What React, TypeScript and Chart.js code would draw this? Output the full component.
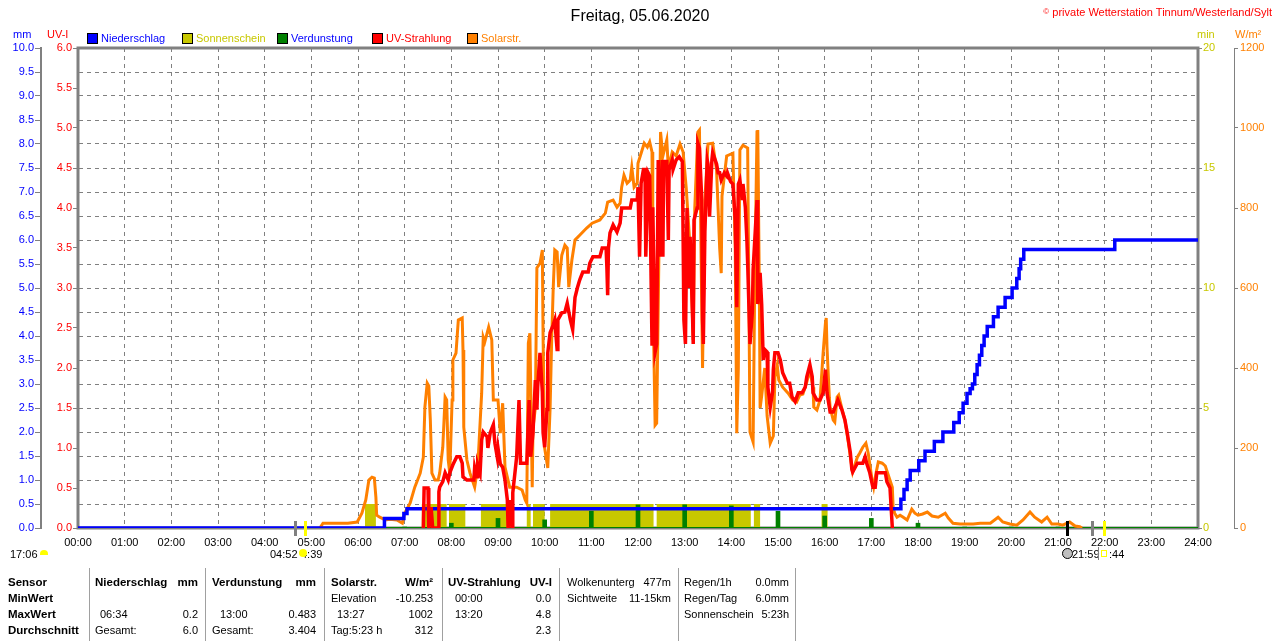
import React, { useEffect, useRef } from "react";
import { Chart, registerables } from "chart.js";

Chart.register(...registerables);

// ---------------- data (time in minutes since 00:00) ----------------
const dayStart = 0;
const dayEnd = 1440;
const hourStep = 60;

// Solarstr. W/m²
const solarRadiation: [number, number][] = [
  [311, 0], [315, 12], [347, 12], [359, 15], [365, 37], [370, 70], [374, 120], [378, 127], [381, 125], [383, 77],
  [384, 32], [388, 27], [395, 20], [401, 22], [410, 20], [417, 12], [420, 37], [427, 62], [433, 102], [440, 137],
  [444, 177], [446, 302], [449, 362], [451, 355], [453, 270], [455, 137], [459, 120], [463, 120], [465, 137], [469, 202],
  [472, 327], [474, 320], [476, 170], [478, 137], [481, 320], [482, 420], [486, 437], [489, 520], [494, 525], [495, 445],
  [496, 252], [500, 170], [504, 137], [510, 102], [514, 152], [519, 337], [521, 477], [523, 465], [526, 487], [528, 502],
  [532, 470], [534, 320], [540, 320], [543, 237], [546, 312], [549, 152], [555, 102], [564, 102], [571, 95], [575, 70],
  [577, 62], [579, 462], [581, 487], [584, 102], [585, 250], [588, 300], [590, 650], [594, 662], [597, 695], [598, 470],
  [600, 200], [604, 150], [607, 300], [609, 470], [611, 600], [613, 695], [616, 690], [618, 602], [622, 682], [626, 707],
  [629, 700], [631, 602], [635, 670], [639, 720], [645, 732], [654, 750], [661, 762], [671, 770], [678, 787], [681, 815],
  [688, 820], [693, 802], [697, 812], [699, 852], [702, 882], [706, 862], [710, 870], [712, 902], [715, 852], [719, 862],
  [720, 912], [724, 937], [728, 962], [732, 952], [735, 965], [738, 940], [739, 600], [742, 257], [744, 262], [747, 700],
  [749, 990], [752, 930], [757, 970], [759, 900], [764, 940], [769, 930], [774, 960], [778, 940], [782, 850], [787, 700],
  [791, 470], [793, 800], [797, 990], [799, 995], [803, 400], [806, 820], [810, 960], [816, 962], [821, 895], [825, 700],
  [827, 637], [828, 830], [834, 930], [842, 937], [845, 700], [847, 237], [849, 400], [851, 945], [855, 957], [861, 950],
  [864, 240], [868, 215], [870, 600], [873, 990], [874, 995], [876, 600], [877, 300], [879, 330], [883, 400], [886, 280],
  [890, 212], [894, 230], [896, 377], [899, 407], [901, 370], [906, 352], [913, 337], [919, 320], [924, 315], [928, 332],
  [932, 335], [937, 365], [941, 395], [945, 352], [946, 302], [950, 295], [954, 320], [958, 437], [961, 512], [962, 525],
  [963, 452], [966, 327], [967, 302], [971, 270], [973, 265], [976, 327], [978, 332], [982, 300], [986, 270], [990, 220],
  [995, 152], [996, 140], [1002, 177], [1005, 187], [1009, 202], [1013, 212], [1016, 187], [1021, 120], [1023, 102], [1026, 137],
  [1029, 165], [1034, 162], [1038, 155], [1041, 137], [1047, 102], [1048, 52], [1050, 37], [1053, 27], [1057, 32], [1061, 27],
  [1066, 20], [1072, 47], [1076, 37], [1080, 32], [1086, 35], [1092, 40], [1098, 30], [1106, 27], [1115, 37], [1119, 25],
  [1125, 12], [1134, 10], [1151, 10], [1160, 12], [1173, 12], [1183, 27], [1189, 15], [1198, 10], [1207, 7], [1215, 20],
  [1224, 40], [1230, 27], [1239, 15], [1246, 27], [1252, 10], [1260, 10], [1266, 7], [1275, 15], [1282, 5], [1288, 3],
  [1291, 0],
];

// UV-Strahlung UV-I
const uvIndex: [number, number][] = [
  [444, 0], [445, 0.5], [450, 0.5], [451, 0], [454, 0.26], [456, 0], [463, 0], [464, 0.45], [465, 0.51], [469, 0.58],
  [472, 0.69], [476, 0.6], [478, 0.69], [482, 0.79], [487, 0.89], [491, 0.89], [494, 0.81], [495, 0.64], [500, 0.6], [509, 0.6],
  [510, 0.76], [513, 0.64], [514, 0.79], [517, 0.69], [519, 1.1], [521, 1.2], [526, 1.14], [527, 1.0], [530, 1.19], [534, 1.29],
  [536, 1.06], [539, 0.89], [540, 1.0], [543, 0.8], [546, 0.76], [549, 0.6], [552, 0.35], [553, 0], [555, 0.35], [558, 0],
  [559, 0.44], [564, 0.89], [567, 1.6], [569, 0.81], [577, 0.81], [580, 1.6], [582, 0.89], [585, 1.19], [588, 1.85], [590, 1.48],
  [591, 1.76], [594, 2.19], [597, 1.7], [598, 1.19], [600, 1.01], [603, 1.48], [604, 2.19], [607, 2.44], [611, 2.54], [613, 2.6],
  [616, 2.23], [617, 2.6], [622, 2.69], [626, 2.7], [629, 2.81], [633, 2.6], [636, 2.48], [639, 2.88], [642, 3.0], [645, 3.1],
  [649, 3.2], [656, 3.2], [658, 3.31], [662, 3.39], [671, 3.39], [674, 3.5], [679, 3.5], [680, 3.26], [681, 2.91], [682, 3.5],
  [684, 3.69], [688, 3.79], [693, 3.7], [697, 3.81], [699, 4.0], [710, 4.0], [712, 4.1], [719, 4.1], [720, 4.26], [722, 3.39],
  [724, 4.31], [727, 4.48], [729, 4.48], [730, 3.39], [733, 4.44], [735, 4.4], [738, 2.3], [739, 4.01], [742, 2.2], [744, 2.3],
  [746, 4.6], [749, 3.39], [751, 4.6], [752, 3.39], [753, 4.58], [757, 4.58], [759, 3.6], [760, 4.48], [764, 4.6], [765, 4.48],
  [769, 4.6], [773, 4.64], [777, 4.58], [778, 3.64], [779, 2.6], [781, 2.3], [783, 4.0], [785, 3.0], [787, 3.64], [790, 2.7],
  [791, 2.3], [792, 3.85], [796, 4.0], [797, 4.81], [799, 4.75], [802, 4.1], [803, 2.6], [804, 2.3], [806, 3.7], [809, 4.6],
  [810, 4.55], [812, 3.89], [815, 4.6], [816, 4.69], [821, 4.55], [823, 4.44], [825, 4.44], [827, 4.35], [831, 4.44], [834, 4.4],
  [835, 4.44], [839, 4.33], [842, 4.3], [845, 3.85], [847, 2.76], [849, 4.3], [851, 4.35], [854, 4.1], [855, 4.3], [858, 4.01],
  [860, 3.6], [861, 3.31], [864, 2.3], [867, 2.7], [868, 3.23], [873, 4.1], [874, 2.8], [877, 3.19], [879, 2.8], [881, 2.1],
  [883, 2.23], [886, 2.2], [887, 1.76], [890, 1.51], [893, 1.7], [894, 1.98], [896, 2.19], [900, 2.19], [903, 2.1], [906, 1.94],
  [912, 1.81], [915, 1.81], [918, 1.64], [922, 1.58], [926, 1.69], [931, 1.69], [935, 1.76], [937, 1.89], [941, 2.04], [944, 1.89],
  [945, 1.69], [950, 1.6], [954, 1.6], [958, 1.69], [961, 1.98], [963, 1.69], [967, 1.45], [971, 1.45], [973, 1.5], [977, 1.6],
  [982, 1.48], [986, 1.35], [989, 1.19], [993, 0.94], [995, 0.73], [996, 0.7], [1002, 0.81], [1009, 0.81], [1012, 0.89], [1014, 0.81],
  [1018, 0.69], [1022, 0.51], [1025, 0.51], [1027, 0.69], [1038, 0.69], [1040, 0.58], [1044, 0.5], [1047, 0],
];

// Niederschlag, cumulative mm (value reached at that minute)
const rainTotal: [number, number][] = [
  [0, 0], [394, 0.2], [419, 0.3], [423, 0.4], [1058, 0.6], [1062, 0.8], [1066, 1.0], [1070, 1.2], [1081, 1.4], [1089, 1.6],
  [1101, 1.8], [1112, 2.0], [1126, 2.2], [1133, 2.4], [1138, 2.6], [1143, 2.8], [1147, 2.9], [1150, 3.0], [1153, 3.2], [1156, 3.4],
  [1159, 3.6], [1162, 3.8], [1165, 4.0], [1169, 4.2], [1177, 4.4], [1183, 4.6], [1192, 4.8], [1201, 5.0], [1207, 5.2], [1210, 5.4],
  [1212, 5.6], [1216, 5.8], [1333, 6.0], [1440, 6.0],
];

// Verdunstung per hour, mm
const evaporation: [number, number][] = [
  [60, 0.01], [120, 0.01], [180, 0.01], [240, 0.01], [300, 0.01], [360, 0.02], [420, 0.02], [480, 0.1], [540, 0.2], [600, 0.17],
  [660, 0.35], [720, 0.48], [780, 0.483], [840, 0.46], [900, 0.35], [960, 0.25], [1020, 0.2], [1080, 0.1], [1140, 0.02], [1200, 0.02],
  [1260, 0.02], [1320, 0.01], [1380, 0.01],
];

// Sonnenschein spans [start, end] in minutes, value in min
const sunshineSpans: [number, number][] = [
  [369, 383], [442, 474], [477, 498], [518, 559], [577, 582], [585, 600], [607, 740], [744, 865], [869, 877], [956, 964],
];
const sunshineLevel = 1;

// sun / twilight markers below the axis
const dayMarkers: { t: number; color: string }[] = [
  { t: 279, color: "#808080" },
  { t: 292, color: "#ffff00" },
  { t: 1272, color: "#000000" },
  { t: 1304, color: "#808080" },
  { t: 1319, color: "#ffff00" },
];

const legendItems = [
  { label: "Niederschlag", box: "#0000ff", text: "#0000ff" },
  { label: "Sonnenschein", box: "#c8c800", text: "#c8c800" },
  { label: "Verdunstung", box: "#008000", text: "#0000ff" },
  { label: "UV-Strahlung", box: "#ff0000", text: "#ff0000" },
  { label: "Solarstr.", box: "#ff8000", text: "#ff8000" },
];

// table texts: [x, row, text, align, bold]
const tableCells: [number, number, string, "l" | "r", boolean][] = [
  [8, 0, "Sensor", "l", true], [95, 0, "Niederschlag", "l", true], [198, 0, "mm", "r", true],
  [212, 0, "Verdunstung", "l", true], [316, 0, "mm", "r", true], [331, 0, "Solarstr.", "l", true],
  [433, 0, "W/m²", "r", true], [448, 0, "UV-Strahlung", "l", true], [552, 0, "UV-I", "r", true],
  [567, 0, "Wolkenunterg", "l", false], [671, 0, "477m", "r", false], [684, 0, "Regen/1h", "l", false], [789, 0, "0.0mm", "r", false],
  [8, 1, "MinWert", "l", true], [331, 1, "Elevation", "l", false], [433, 1, "-10.253", "r", false],
  [455, 1, "00:00", "l", false], [551, 1, "0.0", "r", false], [567, 1, "Sichtweite", "l", false], [671, 1, "11-15km", "r", false],
  [684, 1, "Regen/Tag", "l", false], [789, 1, "6.0mm", "r", false],
  [8, 2, "MaxWert", "l", true], [100, 2, "06:34", "l", false], [198, 2, "0.2", "r", false], [220, 2, "13:00", "l", false],
  [316, 2, "0.483", "r", false], [337, 2, "13:27", "l", false], [433, 2, "1002", "r", false], [455, 2, "13:20", "l", false],
  [551, 2, "4.8", "r", false], [684, 2, "Sonnenschein", "l", false], [789, 2, "5:23h", "r", false],
  [8, 3, "Durchschnitt", "l", true], [95, 3, "Gesamt:", "l", false], [198, 3, "6.0", "r", false], [212, 3, "Gesamt:", "l", false],
  [316, 3, "3.404", "r", false], [331, 3, "Tag:5:23 h", "l", false], [433, 3, "312", "r", false], [551, 3, "2.3", "r", false],
];
const tableRowsY = [582, 598, 614, 630];
const tableSeparators = [89, 205, 324, 442, 559, 678, 795];

// ---------------- helpers ----------------
const FONT = 'Arial, "Liberation Sans", sans-serif';
const W = 1280;
const H = 641;
const pad2 = (n: number) => String(n).padStart(2, "0");
const hhmm = (m: number) => `${pad2(Math.floor(m / 60))}:${pad2(Math.round(m % 60))}`;
const toXY = (pairs: [number, number][]) => pairs.map(([x, y]) => ({ x, y }));

Chart.defaults.font.family = FONT;
Chart.defaults.font.size = 11;

const framePlugin = {
  id: "frame",
  beforeDatasetsDraw(chart: any) {
    const { ctx, chartArea: a } = chart;
    ctx.save();
    ctx.strokeStyle = "#808080";
    ctx.lineWidth = 3;
    ctx.strokeRect(a.left, a.top, a.right - a.left, a.bottom - a.top);
    ctx.restore();
  },
  afterDraw(chart: any) {
    const { ctx, chartArea: a } = chart;
    const xs = chart.scales.x;
    ctx.save();
    ctx.lineWidth = 3;
    for (const m of dayMarkers) {
      const px = Math.round(xs.getPixelForValue(m.t)) + 0.5;
      ctx.strokeStyle = m.color;
      ctx.beginPath();
      ctx.moveTo(px, a.bottom - 7);
      ctx.lineTo(px, a.bottom + 8);
      ctx.stroke();
    }
    ctx.restore();
  },
};

function Label(props: {
  x: number; y: number; text: React.ReactNode; color?: string; bold?: boolean; size?: number; align?: "l" | "r" | "c";
}) {
  const { x, y, text, color = "#000", bold = false, size = 11, align = "l" } = props;
  const style: React.CSSProperties = {
    position: "absolute",
    top: y - 8,
    height: 16,
    lineHeight: "16px",
    fontSize: size,
    fontFamily: FONT,
    fontWeight: bold ? 700 : 400,
    color,
    whiteSpace: "nowrap",
  };
  if (align === "l") style.left = x;
  else if (align === "r") style.right = W - x;
  else {
    style.left = x - 300;
    style.width = 600;
    style.textAlign = "center";
  }
  return <div style={style}>{text}</div>;
}

export default function App() {
  const canvasRef = useRef<HTMLCanvasElement | null>(null);

  useEffect(() => {
    if (!canvasRef.current) return;
    const sunshinePoints = sunshineSpans.flatMap(([s, e]) => [
      { x: s, y: 0 }, { x: s, y: sunshineLevel }, { x: e, y: sunshineLevel }, { x: e, y: 0 },
    ]);
    const chart = new Chart(canvasRef.current, {
      type: "line",
      data: {
        datasets: [
          {
            label: "UV-Strahlung", data: toXY(uvIndex), yAxisID: "yUv",
            borderColor: "#ff0000", borderWidth: 3.5, pointRadius: 0, order: 1,
          } as any,
          {
            label: "Niederschlag", data: toXY(rainTotal), yAxisID: "yMm", stepped: "before",
            borderColor: "#0000ff", borderWidth: 3.5, pointRadius: 0, order: 2,
          },
          {
            label: "Solarstr.", data: toXY(solarRadiation), yAxisID: "yW",
            borderColor: "#ff8000", borderWidth: 3, pointRadius: 0, order: 3,
          },
          {
            type: "bar", label: "Verdunstung", data: toXY(evaporation), yAxisID: "yMm",
            backgroundColor: "#008000", barThickness: 4, order: 4,
          },
          {
            label: "Verdunstung-Basis", data: [{ x: dayStart, y: 0 }, { x: dayEnd, y: 0 }], yAxisID: "yMm",
            borderColor: "#008000", borderWidth: 2, pointRadius: 0, order: 5,
          },
          {
            label: "Sonnenschein", data: sunshinePoints, yAxisID: "yMin",
            borderColor: "rgba(0,0,0,0)", borderWidth: 0, backgroundColor: "#c8c800",
            fill: "origin", pointRadius: 0, order: 6,
          },
        ] as any,
      },
      plugins: [framePlugin],
      options: {
        responsive: false,
        animation: false,
        events: [],
        layout: { padding: { top: 48, left: 0, right: 0, bottom: 0 } },
        plugins: { legend: { display: false }, tooltip: { enabled: false } },
        scales: {
          x: {
            type: "linear", min: dayStart, max: dayEnd, offset: false,
            afterFit: (s: any) => { s.height = 113; },
            ticks: {
              stepSize: hourStep, autoSkip: false, maxRotation: 0, padding: 8, color: "#000",
              font: { size: 11 }, callback: (v: any) => hhmm(Number(v)),
            },
            grid: { color: "#808080", lineWidth: 1, drawTicks: false, offset: false },
            border: { display: false, dash: [4, 4] },
          },
          yMm: {
            position: "left", weight: 2, min: 0, max: 10,
            afterFit: (s: any) => { s.width = 41; },
            ticks: {
              stepSize: 0.5, autoSkip: false, color: "#0000ff", padding: 1,
              callback: (v: any) => Number(v).toFixed(1),
            },
            grid: { color: "#808080", lineWidth: 1, tickLength: 6, drawOnChartArea: true },
            border: { display: true, color: "#808080", width: 2, dash: [4, 4] },
          },
          yUv: {
            position: "left", weight: 1, min: 0, max: 6,
            afterFit: (s: any) => { s.width = 37; },
            ticks: {
              stepSize: 0.5, autoSkip: false, color: "#ff0000", padding: 1,
              callback: (v: any) => Number(v).toFixed(1),
            },
            grid: { color: "#808080", tickLength: 5, drawOnChartArea: false },
            border: { display: false },
          },
          yMin: {
            position: "right", weight: 1, min: 0, max: 20,
            afterFit: (s: any) => { s.width = 36; },
            ticks: { stepSize: 5, autoSkip: false, color: "#c8c800", padding: 1, callback: (v: any) => String(v) },
            grid: { color: "#808080", tickLength: 4, drawOnChartArea: false },
            border: { display: false },
          },
          yW: {
            position: "right", weight: 2, min: 0, max: 1200,
            afterFit: (s: any) => { s.width = 46; },
            ticks: { stepSize: 200, autoSkip: false, color: "#ff8000", padding: 2, callback: (v: any) => String(v) },
            grid: { color: "#808080", tickLength: 4, drawOnChartArea: false },
            border: { display: true, color: "#808080", width: 1 },
          },
        } as any,
      },
    });
    return () => chart.destroy();
  }, []);

  return (
    <div style={{ position: "fixed", left: 0, top: 0, width: W, height: H, background: "#fff", overflow: "hidden" }}>
      <canvas ref={canvasRef} width={W} height={H} style={{ position: "absolute", left: 0, top: 0, width: W, height: H }} />

      <Label x={640} y={16} text="Freitag, 05.06.2020" size={16} align="c" />
      <Label
        x={1272} y={12} align="r" color="#ff0000"
        text={<><span style={{ fontSize: 8, verticalAlign: "top" }}>©</span> private Wetterstation Tinnum/Westerland/Sylt</>}
      />

      <Label x={13} y={34} text="mm" color="#0000ff" />
      <Label x={47} y={34} text="UV-I" color="#ff0000" />
      <Label x={1197} y={34} text="min" color="#c8c800" />
      <Label x={1235} y={34} text={<>W/m²</>} color="#ff8000" />

      {legendItems.map((it, i) => (
        <React.Fragment key={it.label}>
          <div
            style={{
              position: "absolute", left: 87 + i * 95, top: 33, width: 9, height: 9,
              background: it.box, border: "1px solid #000",
            }}
          />
          <Label x={101 + i * 95} y={38} text={it.label} color={it.text} />
        </React.Fragment>
      ))}

      {/* sun / moon times */}
      <Label x={10} y={554} text="17:06" />
      <div style={{ position: "absolute", left: 40, top: 550, width: 8, height: 5, background: "#ffff00", borderRadius: "4px 4px 0 0" }} />
      <Label x={270} y={554} text="04:52" />
      <Label x={301} y={554} text="4:39" />
      <div style={{ position: "absolute", left: 299, top: 549, width: 8, height: 8, background: "#ffff00", borderRadius: 4 }} />
      <div style={{ position: "absolute", left: 1062, top: 548, width: 9, height: 9, background: "#c0c0c0", border: "1px solid #000", borderRadius: 6 }} />
      <Label x={1072} y={554} text="21:59" />
      <div style={{ position: "absolute", left: 1098, top: 547, width: 1, height: 13, background: "#808080" }} />
      <div style={{ position: "absolute", left: 1101, top: 550, width: 4, height: 5, border: "1px solid #ffff00" }} />
      <Label x={1109} y={554} text=":44" />

      {/* table */}
      {tableSeparators.map((x) => (
        <div key={x} style={{ position: "absolute", left: x, top: 568, width: 1, height: H - 568, background: "#a0a0a0" }} />
      ))}
      {tableCells.map(([x, row, text, align, bold], i) => (
        <Label key={i} x={x} y={tableRowsY[row]} text={text} align={align} bold={bold} size={bold ? 11.5 : 11} />
      ))}
    </div>
  );
}
